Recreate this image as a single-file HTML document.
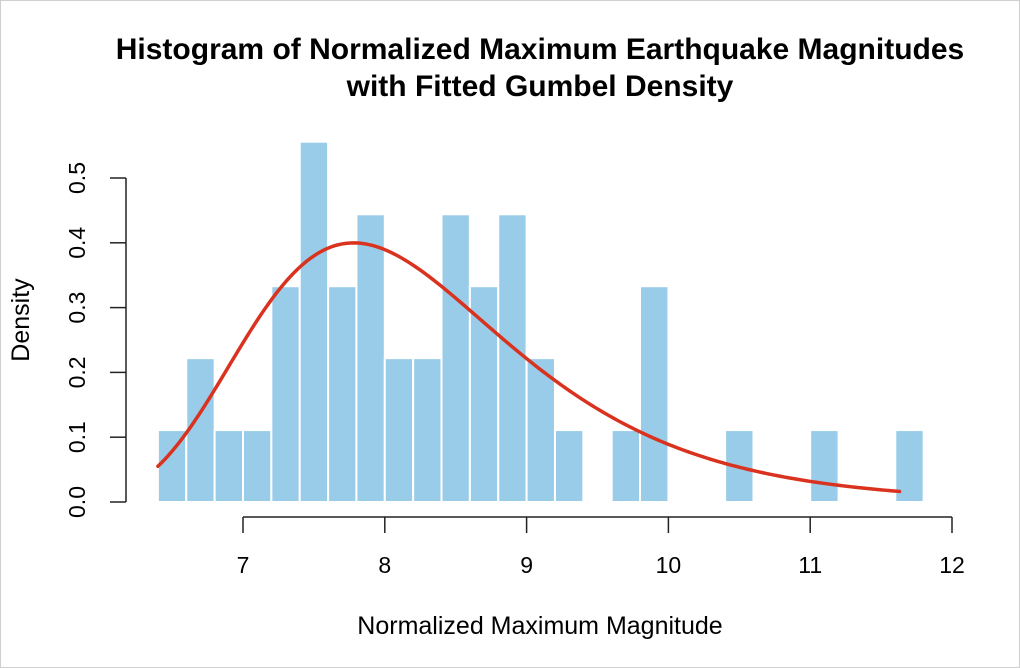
<!DOCTYPE html>
<html><head><meta charset="utf-8"><style>
html,body{margin:0;padding:0;background:#fff;}
svg{display:block;font-family:"Liberation Sans",sans-serif;}
</style></head><body>
<svg id="chart" width="1020" height="668" viewBox="0 0 1020 668">
<rect x="0.5" y="0.5" width="1019" height="667" fill="#fff" stroke="#cfcfcf"/>
<text x="540" y="59" text-anchor="middle" font-size="30" font-weight="bold">Histogram of Normalized Maximum Earthquake Magnitudes</text>
<text x="540" y="96" text-anchor="middle" font-size="30" font-weight="bold">with Fitted Gumbel Density</text>
<text x="540" y="634" text-anchor="middle" font-size="25">Normalized Maximum Magnitude</text>
<text transform="translate(29,320) rotate(-90)" text-anchor="middle" font-size="25">Density</text>
<g id="bars"></g>
<g id="curve"></g>
<g id="axes"></g>
</svg>
<script>
const binStarts = [6.4,6.6,6.8,7.0,7.2,7.4,7.6,7.8,8.0,8.2,8.4,8.6,8.8,9.0,9.2,9.4,9.6,9.8,10.0,10.2,10.4,10.6,10.8,11.0,11.2,11.4,11.6];
const densities = [0.111,0.222,0.111,0.111,0.333,0.556,0.333,0.444,0.222,0.222,0.444,0.333,0.444,0.222,0.111,0,0.111,0.333,0,0,0.111,0,0,0.111,0,0,0.111];
const binWidth = 0.2;
const xTicks = [7,8,9,10,11,12];
const yTicks = [0,0.1,0.2,0.3,0.4,0.5];
const yTickLabels = ["0.0","0.1","0.2","0.3","0.4","0.5"];
const gumbelMu = 7.78, gumbelBeta = 0.92;
const curveRange = [6.4, 11.63];

const NS = "http://www.w3.org/2000/svg";
const xs = v => 243 + (v - 7) * 141.8;
const ys = v => 502 - v * 648;
function mk(tag, attrs, parent){const e=document.createElementNS(NS,tag);for(const k in attrs)e.setAttribute(k,attrs[k]);parent.appendChild(e);return e;}

const bars = document.getElementById('bars');
binStarts.forEach((b,i)=>{
  if(densities[i]<=0) return;
  const r = mk('rect',{x:xs(b),y:ys(densities[i]),width:xs(b+binWidth)-xs(b),height:ys(0)-ys(densities[i]),fill:'#98cce8',stroke:'#fff','stroke-width':2},bars);
  
  
});

const curve = document.getElementById('curve');
let d='';
for(let i=0;i<=200;i++){
  const x = curveRange[0] + (curveRange[1]-curveRange[0])*i/200;
  const z = (x-gumbelMu)/gumbelBeta;
  const f = Math.exp(-(z+Math.exp(-z)))/gumbelBeta;
  d += (i?'L':'M') + xs(x).toFixed(2) + ',' + ys(f).toFixed(2);
}
const p = mk('path',{d:d,fill:'none',stroke:'#d9321e','stroke-width':3.5,'stroke-linecap':'round'},curve);



const axes = document.getElementById('axes');
const yl = mk('line',{x1:126,x2:126,y1:ys(yTicks[0]),y2:ys(yTicks[yTicks.length-1]),stroke:'#222','stroke-width':1.5},axes);


yTicks.forEach((t,i)=>{
  const tk = mk('line',{x1:110,x2:126,y1:ys(t),y2:ys(t),stroke:'#222','stroke-width':1.5},axes);
  
  
  const tx = mk('text',{transform:`translate(85,${ys(t)}) rotate(-90)`,'text-anchor':'middle','font-size':23},axes);
  tx.textContent = yTickLabels[i];
  
  
});
const xl = mk('line',{x1:xs(xTicks[0]),x2:xs(xTicks[xTicks.length-1]),y1:517,y2:517,stroke:'#222','stroke-width':1.5},axes);


xTicks.forEach(t=>{
  const tk = mk('line',{x1:xs(t),x2:xs(t),y1:517,y2:533,stroke:'#222','stroke-width':1.5},axes);
  
  
  const tx = mk('text',{x:xs(t),y:573,'text-anchor':'middle','font-size':23},axes);
  tx.textContent = String(t);
  
  
});
</script>
</body></html>
